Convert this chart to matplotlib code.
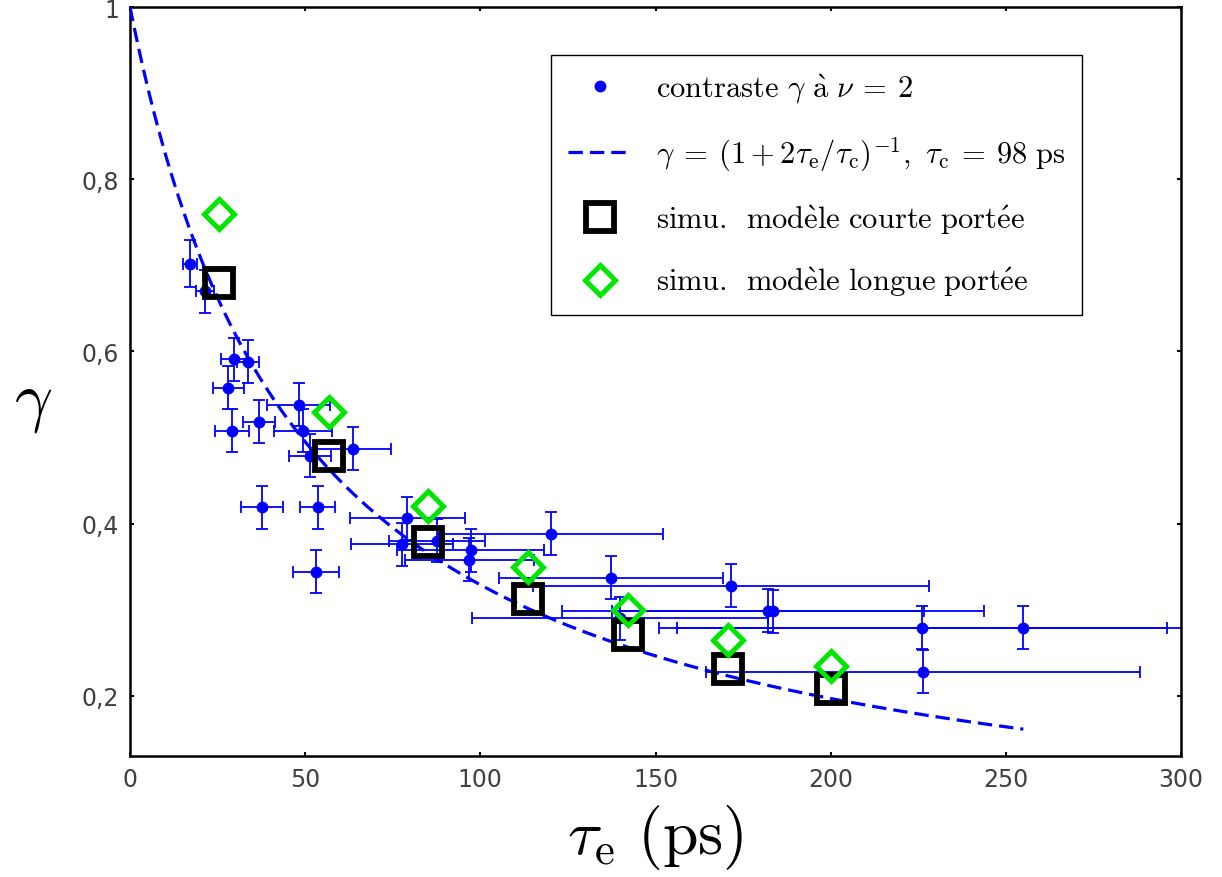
import matplotlib
matplotlib.use('Agg')
import matplotlib.pyplot as plt
from matplotlib.lines import Line2D
import numpy as np

plt.rcParams['mathtext.fontset'] = 'cm'

# mesures : contraste gamma a nu = 2
tau_exp = [17.1, 21.4, 29.7, 33.6, 28.1, 29.2, 36.8, 48.1, 49.3, 51.4, 63.6, 37.7, 53.6, 53.1,
           79.2, 77.6, 87.5, 97.2, 96.9, 120.1, 137.2, 171.6, 182.2, 183.6, 226.0, 255.0, 226.3, 139.9]
gamma_exp = [0.702, 0.670, 0.591, 0.588, 0.558, 0.508, 0.518, 0.538, 0.508, 0.479, 0.487, 0.419, 0.419, 0.344,
             0.406, 0.376, 0.380, 0.369, 0.358, 0.388, 0.337, 0.328, 0.299, 0.298, 0.279, 0.279, 0.228, 0.290]
tau_err = [2.0, 2.6, 3.7, 3.2, 4.3, 4.9, 4.6, 9.1, 8.3, 6.0, 10.8, 6.0, 5.0, 6.7,
           16.3, 14.6, 13.7, 21.1, 18.3, 32.1, 32.0, 56.5, 44.5, 60.2, 70.0, 104.0, 62.0, 42.2]
gamma_err = [0.027, 0.025, 0.025, 0.025, 0.025, 0.025, 0.025, 0.025, 0.025, 0.025, 0.025, 0.025, 0.025, 0.025,
             0.025, 0.025, 0.025, 0.025, 0.025, 0.025, 0.025, 0.025, 0.025, 0.025, 0.025, 0.025, 0.025, 0.025]

# simulations
tau_sim = [25.5, 56.8, 85.1, 113.6, 142.2, 170.7, 200.0]
gamma_courte = [0.679, 0.478, 0.379, 0.312, 0.270, 0.231, 0.208]
gamma_longue = [0.759, 0.530, 0.420, 0.349, 0.300, 0.265, 0.234]

# ajustement
tau_c = 98
tau_fit = np.linspace(0, 255, 400)
gamma_fit = 1 / (1 + 2 * tau_fit / tau_c)

xticks = [0, 50, 100, 150, 200, 250, 300]
yticks = [0.2, 0.4, 0.6, 0.8, 1.0]
ytick_labels = ['0,2', '0,4', '0,6', '0,8', '1']

blue = '#0000ff'
green = '#00e600'

fig = plt.figure(figsize=(12.22, 8.78), dpi=100)
ax = fig.add_axes([130 / 1222, 1 - 757 / 878, 1051 / 1222, 749 / 878])

ax.errorbar(tau_exp, gamma_exp, xerr=tau_err, yerr=gamma_err, fmt='o', color=blue,
            markersize=7.5, elinewidth=1.3, capsize=4.5, capthick=1.3, zorder=2)
ax.plot(tau_fit, gamma_fit, color=blue, linewidth=2.3, dashes=(4.5, 2.2), zorder=3)
ax.plot(tau_sim, gamma_courte, 's', markersize=20, markerfacecolor='none', markeredgecolor='black',
        markeredgewidth=4.2, linestyle='none', zorder=4)
ax.plot(tau_sim, gamma_longue, 'D', markersize=15, markerfacecolor='none', markeredgecolor=green,
        markeredgewidth=3.6, linestyle='none', zorder=4)

ax.set_xlim(0, 300)
ax.set_ylim(0.13, 1.0)
ax.set_xticks(xticks)
ax.set_yticks(yticks)
ax.set_yticklabels(ytick_labels)
ax.tick_params(direction='in', length=3, width=1.5, labelsize=17, labelcolor='#404040',
               top=True, right=True, pad=8)
for sp in ax.spines.values():
    sp.set_linewidth(1.8)

ax.set_xlabel(r'$\tau_\mathrm{e}\ (\mathrm{ps})$', fontsize=46)
ax.xaxis.set_label_coords(0.5, -0.062)
ax.set_ylabel(r'$\gamma$', fontsize=48, rotation=0)
ax.yaxis.set_label_coords(-0.092, 0.43)

handles = [
    Line2D([], [], marker='o', color=blue, markersize=7.5, linestyle='none'),
    Line2D([], [], color=blue, linewidth=2.3, dashes=(4.5, 2.2)),
    Line2D([], [], marker='s', markersize=20, markerfacecolor='none', markeredgecolor='black',
           markeredgewidth=4.2, linestyle='none'),
    Line2D([], [], marker='D', markersize=15, markerfacecolor='none', markeredgecolor=green,
           markeredgewidth=3.6, linestyle='none'),
]
labels = [
    r'$\mathrm{contraste}\ \gamma\ \mathrm{\grave{a}}\ \nu\:=\:2$',
    r'$\gamma\:=\:(1+2\tau_\mathrm{e}/\tau_\mathrm{c})^{-1},\ \tau_\mathrm{c}\:=\:98\ \mathrm{ps}$',
    r'$\mathrm{simu.\ \,mod\grave{e}le\ courte\ port\acute{e}e}$',
    r'$\mathrm{simu.\ \,mod\grave{e}le\ longue\ port\acute{e}e}$',
]
leg = ax.legend(handles, labels, loc='upper left', bbox_to_anchor=(0.4006, 0.585, 0.5054, 0.351),
                mode='expand', fontsize=22, frameon=True, fancybox=False, framealpha=1,
                edgecolor='black', borderpad=0.55, labelspacing=0.95, handlelength=2.1,
                handletextpad=0.8, borderaxespad=0)
leg.get_frame().set_linewidth(1.0)

fig.savefig('out.png', dpi=100)
